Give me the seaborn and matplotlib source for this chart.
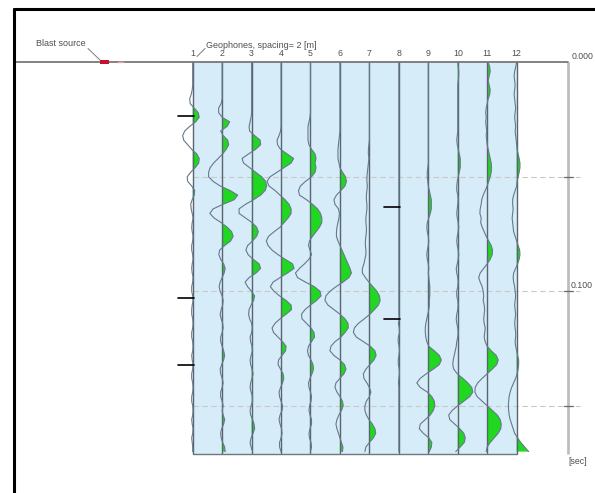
import numpy as np
import pandas as pd
import matplotlib
matplotlib.use("Agg")
import matplotlib.pyplot as plt
from matplotlib.patches import Rectangle
from matplotlib.lines import Line2D
import seaborn as sns

# ---------------------------------------------------------------------------
# Shot record: 12 geophones, 2 ms sampling, amplitudes in display units
# ---------------------------------------------------------------------------
sample_interval_ms = 2
record_length_ms = 171

trace_01 = [0, 0, 0, 0, 0, 0, -0.5, -1.5, -3, -2.5,
            1.5, 5.5, 6.5, 3, -3, -8, -10, -9, -5, -1,
            4, 6.5, 6, 2.5, -2, -5.5, -5, -1, 2, 1.5,
            -0.5, -2, -1.5, -0.5, 0.5, -0.5, -1, -0.5, 0.5, 0,
            -1, -1, 0, 0.5, -0.5, -1, -0.5, 0.5, 0, -1,
            -1, 0, 0.5, -0.5, -1, -1, 0, 0.5, 0, -1,
            -1, 0, 0.5, 0, -1, -0.5, 0.5, 0, -1, -1,
            0, 0.5, 0, -1, -1, 0, 0.5, 0, -1, -0.5,
            0.5, 0, -1, -0.5, 0, 0]
trace_02 = [0, 0, 0, 0, 0, 0, 0, 0, 0, -1,
            -3.5, -3.5, 0, 7.5, 5, -1.5, 1, 5.5, 6.5, 4,
            0.5, -4, -8.5, -12, -13.5, -13.5, -9, -2, 8, 15.5,
            12, 1, -9, -12.3, -8, -1, 5, 9.5, 11, 8.5,
            2.5, -2.5, -3.3, -1.5, 1.5, 3, 2, 0, -2, -3,
            -2, 0, 1, 0.5, -1, -2, -1, 0.5, 1, 0,
            -1.5, -1.5, 0, 1.5, 2.5, 1.5, -0.5, -2, -1.5, 0,
            1, 0, -1.5, -1.5, 0, 1, 0, 1, 2.5, 1.5,
            -0.5, -1.5, -1, 0.5, 2.5, 3]
trace_03 = [0, 0, 0, 0, 0, 0, 0, 0, 0, 0,
            0, 0, -0.5, -1.5, -2.5, -2, 3, 8.5, 9, 4,
            -3, -9.5, -8, -2, 4, 10, 14, 15, 13.5, 9,
            2, -6, -12.5, -12.5, -6, 0.5, 5, 6.7, 5, 1,
            -4, -5.7, -3.5, 1.5, 7.5, 9, 4.5, -2.5, -6.5, -4,
            0, 3, 2, -0.5, -2.5, -3, -2, 0, 1, 0,
            -1.5, -1, 0.5, 1, -0.5, -1.5, -1, 0.5, 1.5, 0.5,
            -1, -1.5, -0.5, 1, 1, -0.5, -1.5, -1, 1, 2.5,
            3, 1.5, -0.5, -1.5, -0.5, 1]
trace_04 = [0, 0, 0, 0, 0, 0, 0, 0, 0, 0,
            0, 0, 0, 0, 0, -0.5, -2, -4, -3.5, -0.5,
            6, 12.5, 10, 3, -4, -11, -14, -12, -6, -1,
            4, 8, 10, 10, 7, 3, -1, -7, -12.5, -14.7,
            -13, -9, -3, 4, 11.5, 13, 6.5, -1, -8, -10.7,
            -7, -1.5, 5, 10, 10.5, 5, -1, -6, -9, -7.5,
            -3, 1.5, 5, 4.5, 1, -2.5, -3, -0.5, 2, 2.7,
            1.5, -0.5, -2, -1.5, 0, 1.5, 1, -1, -2, -1,
            0.5, 1, 0, -1.5, -1.5, 0]
trace_05 = [0, 0, 0, 0, 0, 0, 0, 0, 0, 0,
            0, 0, -0.5, -1.5, -2.5, -2.5, -2.5, -2.5, -1.5, 1,
            4.5, 5.5, 4.5, 5.5, 4.5, 1, -5, -10, -12, -11,
            -4, 2, 7, 10, 11.3, 11.3, 9, 5.5, 2, -1,
            -2, -0.5, 1, -1.5, -6, -11, -15, -13, -5, 4,
            9.5, 10.5, 6, 0, -5.5, -9, -8.5, -4, 0.5, 3.5,
            4, 1, -2, -3, -2, 0.5, 2.5, 3, 1.5, -0.5,
            -2, -1.5, 0, 1, 0.5, -1, -1.5, -0.5, 1, 1,
            -0.5, -1.5, -1, 0.5, 1, 0]
trace_06 = [0, 0, 0, 0, 0, 0, 0, 0, 0, 0,
            0, 0, 0, 0, 0, 0, -0.5, -1, -1.5, -2,
            -2, -2, -1, 0, 2.5, 5.5, 6.5, 5, 1, -3.5,
            -6, -5, -1.5, -0.5, -1, -2, -3, -3.5, -3.5, -2,
            0, 2, 4, 6, 8, 10, 11.5, 9, 3, -4,
            -10, -14, -15, -12, -6, 0, 5, 8, 8.3, 5,
            1, -5, -9, -10, -6, 0, 4.5, 6, 4, 0,
            -4, -5, -3, 0, 2.5, 3.3, 1.5, -1, -3, -4,
            -3, -1.5, 0, 1.5, 3, 2.5]
trace_07 = [0, 0, 0, 0, 0, 0, 0, 0, 0, 0,
            0, 0, 0, 0, 0, 0, 0, 0, -0.5, -1,
            -1, -0.5, -1, -1.5, -2, -2.5, -2.5, -2, -2.5, -3,
            -3, -2.5, -2.5, -3, -3.5, -3.5, -3, -3, -3.5, -4,
            -4, -3.5, -3.5, -4.5, -5.5, -7, -7, -4, -0.5, 3.5,
            7.5, 10, 10.7, 9, 5, 0.5, -5, -11, -15, -16,
            -13, -6, 1, 5.5, 6.7, 4.5, 0.5, -3.5, -6, -5.5,
            -2.5, 0, 1.5, 0, -3, -4.5, -4.5, -3, -0.5, 3,
            5.5, 6.3, 4, 0, -3.5, -4.5]
trace_08 = [0, 0, 0, 0, 0, 0, 0, 0, 0, 0,
            0, 0, 0, 0, 0, 0, 0, 0, 0, 0,
            0, 0, 0, 0, 0, 0, 0, 0, 0, 0,
            0, 0, 0, 0, 0, 0, 0, 0, 0, 0,
            0, 0, 0, 0, 0, 0, 0, 0, 0, 0,
            0, 0, 0, 0, 0, 0, 0.5, -0.5, 0.5, 0.7,
            -0.5, -0.7, 0.3, 0.7, 0, -0.6, -0.5, 0.4, 0.6, 0,
            -0.4, 0, 0, 0, 0, 0, 0, 0, 0, 0,
            0, 0, 0, 0, 0, 0]
trace_09 = [0, 0, 0, 0, 0, 0, 0, 0, 0, 0,
            0, 0, 0, 0, 0, 0, 0, 0, 0, 0,
            0, 0, 0, -0.5, -1, -1, -0.5, 0, 1, 2,
            3, 3, 3, 2, 0.5, -1, -1.5, -1, 0, 0.5,
            0, -1, -1.5, -1, 0, 0.5, 0, 0.5, 1, 1.5,
            1.5, 1.5, 1, 1, 0.5, -0.5, -1.5, -2.5, -3, -3,
            -2.5, -1.5, 0.5, 6, 11, 13, 11, 5, -2, -8,
            -11.5, -8, -1, 3.5, 6, 6.5, 5, 2, -3, -8,
            -9, -5, 0.5, 3.5, 3, 1]
trace_10 = [0, 0.5, 1, 1, 0.5, 0, 0, 0, 0, 0,
            0, 0, 0, 0, 0, 0, -0.5, -1, -0.5, 0.5,
            1.5, 2.5, 2.5, 2.5, 1.5, 0.5, -0.5, -1, -1, 0,
            0.5, 0, -0.5, -1, -0.5, 0.5, 1, 0.5, -0.5, -1,
            -0.5, 0.5, 1, 0.5, -0.5, -1.5, -1, 0, 0.5, 0,
            -1, -1, 0, 0.5, 0, -1, -1.5, -1, 0, 0.5,
            0, -1, -1.5, -2.5, -3.5, -4.5, -5, -4, -0.5, 5,
            10, 14, 15, 12, 6, 0, -5.5, -9, -8, -3,
            2, 6, 7.5, 6.5, 2.5, -2]
trace_11 = [1, 2.5, 3, 2, 1, 2, 3, 2.5, 1, 0,
            -1, -1.5, -1, -1.5, -1, -0.5, -1, -0.5, 0, 1,
            2, 3, 4, 4.3, 4, 3, 1.5, 0, -2, -4,
            -5.5, -6, -7, -7.3, -6, -6.5, -5, -3, -1, 1.5,
            4, 5.3, 5, 3, 0, -3.5, -7, -8.5, -7, -5,
            -4, -3.5, -4, -3, -2.5, -3, -3.5, -3, -2, -2.5,
            -3, -2, 0, 4, 9, 11, 9.5, 5, 0, -5,
            -9.5, -12, -12.3, -10, -5, 0, 5, 10, 13, 14,
            13.5, 11, 7, 3, 0, -1]
trace_12 = [0, -1, -2, -2.5, -2, -1.5, -2, -2.5, -2, -1.5,
            -1, -1.5, -2, -1.5, -1, -1.5, -1, -0.5, 0, 0.5,
            1.5, 2.5, 3.3, 3.3, 2.5, 1.5, 0.5, 0, -1.5, -3,
            -4, -4, -3.5, -4, -4.5, -4, -3.5, -3, -1.5, 0,
            1.5, 3, 3.3, 2.5, 1, -1, -3, -3.5, -3, -2,
            -1.5, -1, -1.5, -2, -1.5, -1, -1.5, -2, -1.5, -1,
            -1, -1.5, -1, 0, 1, 2, 2, 1.5, 0.5, -1,
            -3, -5, -6.5, -7.5, -8, -8.3, -8, -7.5, -6.5, -5,
            -3.5, -2, 1, 4, 8, 12]

geophone_no = list(range(1, 13))
geophone_spacing_m = 2.0
source_offset_m = -6.0

# arrival picks (geophone number, time in ms)
pick_geophone = [1, 1, 1, 8, 8]
pick_time_ms = [23.4, 102.9, 132.2, 63.2, 112.0]

grid_times_ms = [50, 100, 150]
time_labels_ms = [0, 100]

# ---------------------------------------------------------------------------
traces = [trace_01, trace_02, trace_03, trace_04, trace_05, trace_06,
          trace_07, trace_08, trace_09, trace_10, trace_11, trace_12]
time_ms = np.arange(len(trace_01)) * sample_interval_ms
offsets = [(g - 1) * geophone_spacing_m for g in geophone_no]
trace_gain = 0.068          # metres of deflection per amplitude unit

rows = []
for g, off, amp in zip(geophone_no, offsets, traces):
    for t, a in zip(time_ms, amp):
        rows.append({"geophone": g, "time": t, "x": off + a * trace_gain})
df = pd.DataFrame(rows)

sns.set_theme(style="white")
plt.rcParams["font.family"] = ["Liberation Sans", "DejaVu Sans"]

W, H = 595, 493
fig = plt.figure(figsize=(W / 100, H / 100), dpi=100)
ax = fig.add_axes([0, 0, 1, 1])

# page layout: geophone 1 at x=192.7 px, zero time at y=62.3 px
x0_px, y0_px = 192.7, 62.3
px_per_m, px_per_ms = 14.725, 2.29
ax.set_xlim(-x0_px / px_per_m, (W - x0_px) / px_per_m)
ax.set_ylim((H - y0_px) / px_per_ms, -y0_px / px_per_ms)
ax.axis("off")


def px(x, y):
    """Page pixel position -> data coordinates."""
    return (x - x0_px) / px_per_m, (y - y0_px) / px_per_ms


text_color = "#4f4f4f"
green = "#1fd81f"
wiggle_color = "#66788c"
axis_x = px(568, 0)[0]
line_end = offsets[-1]

# spread background
ax.add_patch(Rectangle((offsets[0], 0), line_end - offsets[0], record_length_ms,
                       facecolor="#d6ecf8", edgecolor="none", zorder=0))

# time grid
for t in grid_times_ms:
    ax.plot([offsets[0], px(580, 0)[0]], [t, t], color="#c9c9c9", lw=0.8,
            ls=(0, (5, 3)), zorder=1)

# surface line and bottom of record
ax.plot([px(14, 0)[0], axis_x], [0, 0], color="#6d6d6d", lw=1.2, zorder=4)
ax.plot([offsets[0], line_end], [record_length_ms, record_length_ms],
        color="#6f7780", lw=1.0, zorder=4)

# positive lobes filled green
for off, amp in zip(offsets, traces):
    a = np.asarray(amp, dtype=float)
    ax.fill_betweenx(time_ms, off, off + a * trace_gain, where=a > 0,
                     interpolate=True, color=green, lw=0, zorder=2)

# geophone base lines
ax.vlines(offsets, 0, record_length_ms, color="#5a6570", lw=1.0, zorder=3)

# wiggle traces
sns.lineplot(data=df, x="x", y="time", units="geophone", estimator=None,
             sort=False, color=wiggle_color, linewidth=0.8, ax=ax,
             legend=False, zorder=4)
ax.set_xlim(-x0_px / px_per_m, (W - x0_px) / px_per_m)
ax.set_ylim((H - y0_px) / px_per_ms, -y0_px / px_per_ms)
ax.axis("off")

# picks
for g, t in zip(pick_geophone, pick_time_ms):
    off = offsets[g - 1]
    ax.plot([off - 15 / px_per_m, off + 1 / px_per_m], [t, t],
            color="black", lw=1.2, zorder=5)

# time axis on the right
ax.plot([axis_x, axis_x], [0, record_length_ms], color="#bdbdbd", lw=2,
        zorder=3, solid_capstyle="butt")
for t in grid_times_ms:
    ax.plot([axis_x - 4 / px_per_m, axis_x + 5 / px_per_m], [t, t],
            color="#6a6a6a", lw=0.9, zorder=4)
for t in time_labels_ms:
    lx, _ = px(593, 0)
    ax.text(lx, t - 2.6, f"{t / 1000:.3f}", ha="right", va="center",
            fontsize=6.3, color=text_color)
ax.text(axis_x, px(0, 461)[1], "[sec]", ha="left", va="center",
        fontsize=6.3, color=text_color)

# blast source
ax.add_patch(Rectangle((source_offset_m - 0.3, -0.8), 0.61, 1.6,
                       facecolor="#c4122f", edgecolor="none", zorder=5))
ax.plot([source_offset_m + 0.95, source_offset_m + 1.25], [0, 0],
        color="#f2a3a3", lw=1.0, zorder=5)
bx, by = px(36, 43.5)
ax.text(bx, by, "Blast source", ha="left", va="center", fontsize=6.5,
        color=text_color)
ax.plot(*zip(px(88, 48.5), px(100, 60)), color="#7a7a7a", lw=0.7)

# geophone labels
for g, off in zip(geophone_no, offsets):
    ax.text(off, px(0, 54)[1], str(g), ha="center", va="center",
            fontsize=6.3, color=text_color)
gx, gy = px(206, 45)
ax.text(gx, gy, f"Geophones, spacing= {geophone_spacing_m:g} [m]", ha="left",
        va="center", fontsize=6.5, color=text_color)
ax.plot(*zip(px(205, 48.5), px(197, 56.5)), color="#7a7a7a", lw=0.7)

# page frame (top and left edges)
fig.add_artist(Line2D([14 / W, 14 / W], [0, 1 - 9 / H], color="black",
                      lw=2.2, transform=fig.transFigure))
fig.add_artist(Line2D([14 / W, 1], [1 - 9 / H, 1 - 9 / H], color="black",
                      lw=2.2, transform=fig.transFigure))

fig.savefig("out.png", dpi=100)
